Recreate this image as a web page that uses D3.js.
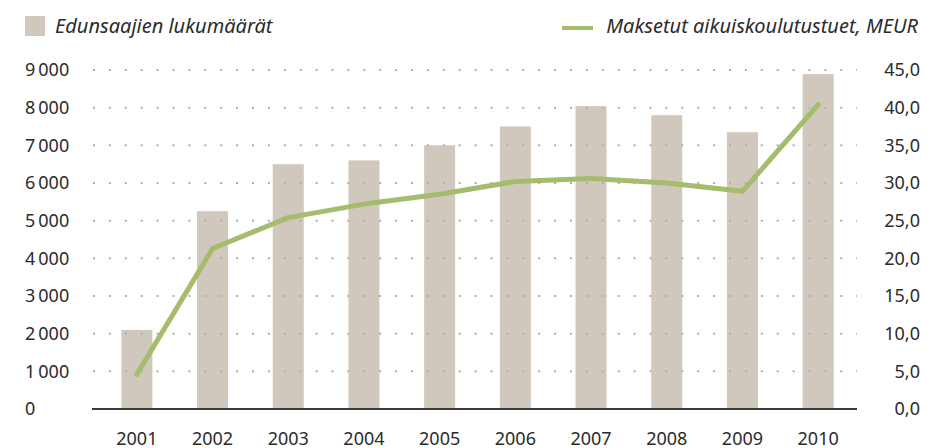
<!DOCTYPE html>
<html>
<head>
<meta charset="utf-8">
<script src="https://cdn.jsdelivr.net/npm/d3@7"></script>
<style>
  body { margin: 0; background: #fff; }
  svg { display: block; font-family: "Noto Sans", "Open Sans", sans-serif; }
  .tick text { fill: #2b2b2b; }
</style>
</head>
<body>
<svg id="chart" width="927" height="448"></svg>
<script>
// data
var years = ["2001", "2002", "2003", "2004", "2005", "2006", "2007", "2008", "2009", "2010"];
var recipients = [2100, 5250, 6500, 6600, 7000, 7500, 8040, 7800, 7350, 8890];   // Edunsaajien lukumäärät
var paidMeur = [4.6, 21.3, 25.4, 27.2, 28.5, 30.2, 30.6, 30.0, 28.9, 40.4];       // Maksetut aikuiskoulutustuet, MEUR
var leftTicks = [0, 1000, 2000, 3000, 4000, 5000, 6000, 7000, 8000, 9000];
var rightTicks = [0, 5, 10, 15, 20, 25, 30, 35, 40, 45];

var barColor = "#d0c8bc",
    lineColor = "#a5bc6d",
    textColor = "#2b2b2b";

var svg = d3.select("#chart");

var fi = d3.formatLocale({ decimal: ",", thousands: "\u2009", grouping: [3] });

var x = d3.scaleBand().domain(years).range([99, 856]).paddingInner(0.59).paddingOuter(0.295);
var yL = d3.scaleLinear().domain([0, 9000]).range([409, 70]);
var yR = d3.scaleLinear().domain([0, 45]).range([409, 70]);

// bars
svg.append("g").selectAll("rect")
    .data(recipients)
    .enter().append("rect")
    .attr("x", function (d, i) { return x(years[i]); })
    .attr("y", function (d) { return yL(d); })
    .attr("width", x.bandwidth())
    .attr("height", function (d) { return yL(0) - yL(d); })
    .attr("fill", barColor);

// dotted grid, drawn over the bars
svg.append("g").selectAll("line")
    .data(leftTicks.slice(1))
    .enter().append("line")
    .attr("x1", 93).attr("x2", 857)
    .attr("y1", function (d) { return yL(d); })
    .attr("y2", function (d) { return yL(d); })
    .attr("stroke", "#aeaeae")
    .attr("stroke-width", 2)
    .attr("stroke-dasharray", "2 13.9");

// base line
svg.append("line")
    .attr("x1", 92).attr("x2", 857)
    .attr("y1", yL(0)).attr("y2", yL(0))
    .attr("stroke", "#3a3a3a").attr("stroke-width", 2);

// line series
var line = d3.line()
    .x(function (d, i) { return x(years[i]) + x.bandwidth() / 2; })
    .y(function (d) { return yR(d); });

svg.append("path")
    .datum(paidMeur)
    .attr("d", line)
    .attr("fill", "none")
    .attr("stroke", lineColor)
    .attr("stroke-width", 5)
    .attr("stroke-linecap", "round")
    .attr("stroke-linejoin", "round");

// left axis labels (left aligned)
var gl = svg.append("g")
    .call(d3.axisLeft(yL).tickValues(leftTicks).tickSize(0).tickFormat(fi.format(",d")));
gl.select(".domain").remove();
gl.selectAll("text")
    .attr("x", 25)
    .attr("text-anchor", "start")
    .attr("font-size", 18)
    .attr("font-family", "Noto Sans");

// right axis labels (right aligned)
var gr = svg.append("g")
    .attr("transform", "translate(920,0)")
    .call(d3.axisLeft(yR).tickValues(rightTicks).tickSize(0).tickPadding(0).tickFormat(fi.format(".1f")));
gr.select(".domain").remove();
gr.selectAll("text")
    .attr("font-size", 18)
    .attr("font-family", "Noto Sans");

// years
var gb = svg.append("g")
    .attr("transform", "translate(0,409)")
    .call(d3.axisBottom(x).tickSize(0).tickPadding(23));
gb.select(".domain").remove();
gb.selectAll("text")
    .attr("font-size", 18)
    .attr("font-family", "Noto Sans");

// legend
svg.append("rect")
    .attr("x", 25).attr("y", 16).attr("width", 20).attr("height", 20)
    .attr("fill", barColor);
svg.append("text")
    .attr("x", 55).attr("y", 33)
    .attr("font-size", 20).attr("font-style", "italic")
    .attr("fill", textColor)
    .text("Edunsaajien lukumäärät");

svg.append("line")
    .attr("x1", 562).attr("x2", 593)
    .attr("y1", 28).attr("y2", 28)
    .attr("stroke", lineColor).attr("stroke-width", 4);
svg.append("text")
    .attr("x", 918).attr("y", 33)
    .attr("text-anchor", "end")
    .attr("font-size", 20).attr("font-style", "italic")
    .attr("fill", textColor)
    .text("Maksetut aikuiskoulutustuet, MEUR");
</script>
</body>
</html>
